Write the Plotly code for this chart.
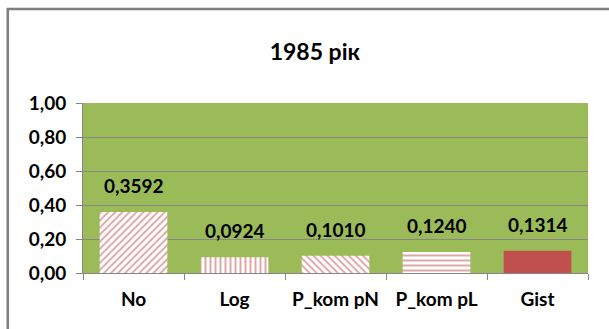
import plotly.graph_objects as go

categories = ["No", "Log", "P_kom pN", "P_kom pL", "Gist"]
values = [0.3592, 0.0924, 0.1010, 0.1240, 0.1314]
patterns = ["/", "|", "\\", "-", ""]
title_text = "1985 рік"

RED = "#C0504D"
GREEN = "#9BBB59"
GRID = "#868686"
FONT = "Lato"

labels = ["{:.4f}".format(v).replace(".", ",") for v in values]

fig = go.Figure()
for c, v, p in zip(categories, values, patterns):
    if p:
        marker = dict(color="white", line=dict(width=0),
                      pattern=dict(shape=p, fgcolor=RED, bgcolor="white",
                                   size=5, solidity=0.4, fillmode="overlay"))
    else:
        marker = dict(color=RED, line=dict(width=0))
    fig.add_trace(go.Bar(x=[c], y=[v], width=0.67, marker=marker, hoverinfo="skip"))

for c, v, t in zip(categories, values, labels):
    fig.add_annotation(x=c, y=v, text="<b>%s</b>" % t, showarrow=False,
                       yanchor="bottom", yshift=13,
                       font=dict(family=FONT, size=19, color="black"))

fig.add_shape(type="rect", xref="paper", yref="paper",
              x0=-0.149, x1=1.2, y0=-0.5, y1=1.553,
              line=dict(color="#7F7F7F", width=2.5), fillcolor="rgba(0,0,0,0)")

fig.update_layout(
    width=609, height=329,
    margin=dict(l=83, r=21, t=103, b=56),
    paper_bgcolor="white", plot_bgcolor=GREEN,
    separators=", ",
    showlegend=False,
    barmode="overlay",
    title=dict(text="<b>%s</b>" % title_text, x=0.517, xanchor="center",
               y=1 - 52 / 329, yanchor="middle",
               font=dict(family=FONT, size=23, color="black")),
)
fig.update_yaxes(range=[0, 1], dtick=0.2, tickformat=".2f",
                 showgrid=True, gridcolor=GRID, gridwidth=1.3,
                 ticks="outside", ticklen=6, tickcolor=GRID,
                 showline=True, linecolor=GRID, linewidth=1,
                 zeroline=False, ticklabelstandoff=6,
                 tickfont=dict(family=FONT, size=19, color="black", weight="bold"))
fig.update_xaxes(tickson="boundaries", ticks="outside", ticklen=6, tickcolor=GRID,
                 showline=True, linecolor=GRID, linewidth=1.3,
                 ticklabelstandoff=9,
                 tickfont=dict(family=FONT, size=19, color="black", weight="bold"))

fig.write_html("out.html")
